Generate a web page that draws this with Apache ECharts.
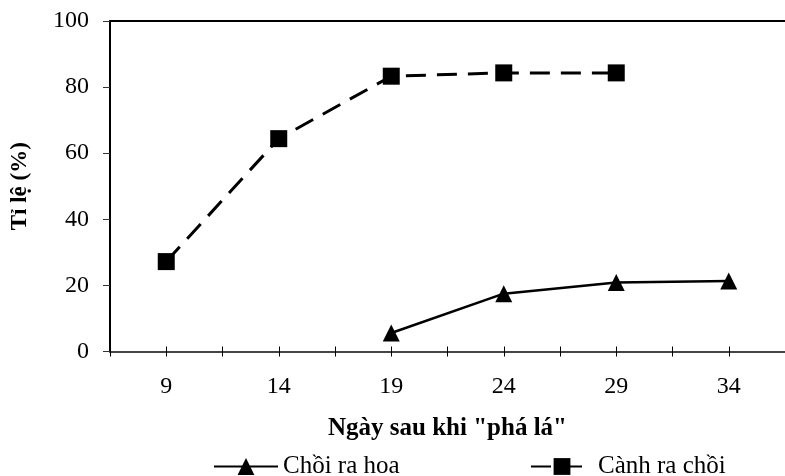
<!DOCTYPE html>
<html>
<head>
<meta charset="utf-8">
<script src="https://cdn.jsdelivr.net/npm/echarts@6/dist/echarts.min.js"></script>
<style>
html,body{margin:0;padding:0;background:#fff;}
#c{width:785px;height:476px;}
</style>
</head>
<body>
<div id="c"></div>
<script>
var categories = ['9', '14', '19', '24', '29', '34'];
var choiRaHoa = [null, null, 5.6, 17.5, 20.9, 21.3];
var canhRaChoi = [27.2, 64.4, 83.3, 84.3, 84.3, null];
var yTicks = [0, 20, 40, 60, 80, 100];
var seriesNames = ['Chồi ra hoa', 'Cành ra chồi'];
var xName = 'Ngày sau khi "phá lá"';
var yName = 'Tỉ lệ (%)';

var FONT = 'Liberation Serif';
var chart = echarts.init(document.getElementById('c'), null, {renderer: 'canvas'});

var tickAxisBase = {
  type: 'category', data: categories, gridIndex: 0, position: 'bottom',
  boundaryGap: true, offset: -5,
  axisLine: {show: false}, axisLabel: {show: false}, splitLine: {show: false}
};

chart.setOption({
  animation: false,
  backgroundColor: '#fff',
  grid: {left: 110, top: 21, right: -10, bottom: 124.5, containLabel: false},
  legend: [
    {
      data: [seriesNames[0]], left: 208, top: 449, itemWidth: 64, itemHeight: 21, itemGap: 0,
      textStyle: {fontFamily: FONT, fontSize: 25, color: '#000'}
    },
    {
      data: [seriesNames[1]], left: 525, top: 449, itemWidth: 62, itemHeight: 21, itemGap: 0,
      textStyle: {fontFamily: FONT, fontSize: 25, color: '#000'}
    }
  ],
  xAxis: [
    {
      type: 'category', data: categories, position: 'bottom', boundaryGap: true,
      name: xName, nameLocation: 'middle', nameGap: 64.5,
      nameTextStyle: {fontFamily: FONT, fontSize: 25, fontWeight: 'bold', color: '#000'},
      axisLine: {show: true, lineStyle: {color: '#444', width: 2}},
      axisTick: {show: false},
      axisLabel: {fontFamily: FONT, fontSize: 24, color: '#000', margin: 23.5},
      splitLine: {show: false}
    },
    Object.assign({}, tickAxisBase, {
      axisTick: {show: true, interval: 0, alignWithLabel: false, length: 10, lineStyle: {color: '#000', width: 1}}
    }),
    Object.assign({}, tickAxisBase, {
      axisTick: {show: true, interval: 0, alignWithLabel: true, length: 10, lineStyle: {color: '#000', width: 1}}
    }),
    {
      type: 'category', data: categories, position: 'top', boundaryGap: true,
      axisLine: {show: true, lineStyle: {color: '#000', width: 2}},
      axisTick: {show: false}, axisLabel: {show: false}, splitLine: {show: false}
    }
  ],
  yAxis: {
    type: 'value', min: yTicks[0], max: yTicks[yTicks.length - 1], interval: yTicks[1] - yTicks[0],
    name: yName, nameLocation: 'middle', nameGap: 78, nameRotate: 90,
    nameTextStyle: {fontFamily: FONT, fontSize: 23, fontWeight: 'bold', color: '#000'},
    axisLine: {show: true, lineStyle: {color: '#000', width: 2}},
    axisTick: {show: true, length: 7, lineStyle: {color: '#333', width: 1}},
    axisLabel: {fontFamily: FONT, fontSize: 24, color: '#000', margin: 21},
    splitLine: {show: false}
  },
  series: [
    {
      name: seriesNames[0], type: 'line', data: choiRaHoa, xAxisIndex: 0,
      symbol: 'triangle', symbolSize: 17, showSymbol: true,
      itemStyle: {color: '#000'},
      lineStyle: {color: '#000', width: 2.5, type: 'solid'}
    },
    {
      name: seriesNames[1], type: 'line', data: canhRaChoi, xAxisIndex: 0,
      symbol: 'rect', symbolSize: 17, showSymbol: true,
      itemStyle: {color: '#000'},
      lineStyle: {color: '#000', width: 3, type: [20, 11]}
    }
  ]
});
</script>
</body>
</html>
